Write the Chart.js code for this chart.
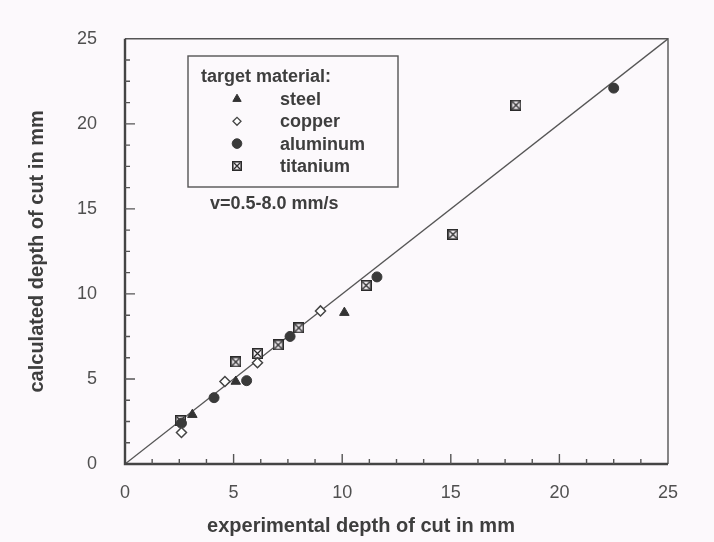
<!DOCTYPE html>
<html>
<head>
<meta charset="utf-8">
<script src="https://cdn.jsdelivr.net/npm/chart.js@4.4.1/dist/chart.umd.min.js"></script>
<style>
  html, body { margin: 0; padding: 0; background: #fcf9fc; }
  #wrap { width: 714px; height: 542px; position: relative; }
</style>
</head>
<body>
<div id="wrap"><canvas id="c" width="714" height="542"></canvas></div>
<script>
// Experimental vs. calculated depth of cut (mm) per target material
const steelX    = [3.1, 5.1, 10.1];
const steelY    = [2.9, 4.85, 8.9];
const copperX   = [2.6, 4.6, 6.1, 9.0];
const copperY   = [1.85, 4.85, 5.95, 9.0];
const aluminumX = [2.6, 4.1, 5.6, 7.6, 11.6, 22.5];
const aluminumY = [2.4, 3.9, 4.9, 7.5, 11.0, 22.1];
const titaniumX = [2.55, 5.1, 6.1, 7.05, 8.0, 11.1, 15.1, 18.0];
const titaniumY = [2.55, 6.0, 6.5, 7.0, 8.0, 10.5, 13.5, 21.1];
// Line of perfect agreement
const refX = [0, 25];
const refY = [0, 25];
const xTicks = [0, 5, 10, 15, 20, 25];
const yTicks = [0, 5, 10, 15, 20, 25];
const legendTitle = 'target material:';
const speedNote = 'v=0.5-8.0 mm/s';
const xTitle = 'experimental depth of cut in mm';
const yTitle = 'calculated depth of cut in mm';

const pts = (xs, ys) => xs.map((x, i) => ({ x: x, y: ys[i] }));
const INK = '#3e3e3e';
const FONT = '"Liberation Sans", Arial, sans-serif';

// Square with a cross inside, used for titanium
function crossBox(size) {
  const cv = document.createElement('canvas');
  cv.width = size; cv.height = size;
  const g = cv.getContext('2d');
  g.fillStyle = '#f4f0f4';
  g.fillRect(0, 0, size, size);
  g.strokeStyle = '#2a2a2a';
  g.lineWidth = 1.6;
  g.strokeRect(0.8, 0.8, size - 1.6, size - 1.6);
  g.lineWidth = 1.3;
  g.beginPath();
  g.moveTo(2, 2); g.lineTo(size - 2, size - 2);
  g.moveTo(size - 2, 2); g.lineTo(2, size - 2);
  g.stroke();
  return cv;
}
const tiMark = crossBox(11);
const tiMarkSmall = crossBox(10);

const datasets = [
  { label: 'reference', type: 'line', data: pts(refX, refY), borderColor: '#555',
    borderWidth: 1.3, pointRadius: 0, fill: false, order: 5 },
  { label: 'steel', data: pts(steelX, steelY), pointStyle: 'triangle', pointRadius: 5.5,
    backgroundColor: '#333', borderColor: '#333', borderWidth: 1, order: 1 },
  { label: 'copper', data: pts(copperX, copperY), pointStyle: 'rectRot', pointRadius: 5,
    backgroundColor: '#fff', borderColor: '#444', borderWidth: 1.5, order: 1 },
  { label: 'titanium', data: pts(titaniumX, titaniumY), pointStyle: tiMark, pointRadius: 5.5,
    backgroundColor: '#fff', borderColor: '#333', order: 2 },
  { label: 'aluminum', data: pts(aluminumX, aluminumY), pointStyle: 'circle', pointRadius: 5,
    backgroundColor: '#3a3a3a', borderColor: '#3a3a3a', borderWidth: 1, order: 1 }
];

const decor = {
  id: 'decor',
  beforeDraw(chart) {
    const ctx = chart.ctx;
    ctx.save();
    ctx.fillStyle = '#fcf9fc';
    ctx.fillRect(0, 0, chart.width, chart.height);
    ctx.restore();
  },
  afterDraw(chart) {
    const ctx = chart.ctx;
    const a = chart.chartArea;
    const xs = chart.scales.x, ys = chart.scales.y;
    ctx.save();
    // frame
    ctx.strokeStyle = '#555';
    ctx.lineWidth = 1.4;
    ctx.beginPath();
    ctx.moveTo(a.left, a.top); ctx.lineTo(a.right, a.top); ctx.lineTo(a.right, a.bottom);
    ctx.stroke();
    ctx.strokeStyle = '#444';
    ctx.lineWidth = 2.4;
    ctx.beginPath();
    ctx.moveTo(a.left, a.top); ctx.lineTo(a.left, a.bottom); ctx.lineTo(a.right, a.bottom);
    ctx.stroke();
    // inward ticks, major every 5, minor every 1.25
    ctx.lineWidth = 1.4;
    ctx.strokeStyle = '#555';
    ctx.beginPath();
    for (let v = 1.25; v < 25; v += 1.25) {
      const major = Math.abs(v / 5 - Math.round(v / 5)) < 1e-6;
      const len = major ? 10 : 5;
      const px = xs.getPixelForValue(v);
      ctx.moveTo(px, a.bottom); ctx.lineTo(px, a.bottom - len);
      const py = ys.getPixelForValue(v);
      ctx.moveTo(a.left, py); ctx.lineTo(a.left + len, py);
    }
    ctx.stroke();

    // axis titles
    ctx.fillStyle = INK;
    ctx.font = 'bold 20px ' + FONT;
    ctx.textAlign = 'center';
    ctx.textBaseline = 'middle';
    ctx.fillText(xTitle, 361, 526);
    ctx.save();
    ctx.translate(37, (a.top + a.bottom) / 2);
    ctx.rotate(-Math.PI / 2);
    ctx.fillText(yTitle, 0, 0);
    ctx.restore();

    // legend box
    ctx.strokeStyle = '#555';
    ctx.lineWidth = 1.4;
    ctx.strokeRect(188, 56, 210, 131);
    ctx.font = 'bold 18px ' + FONT;
    ctx.textAlign = 'left';
    ctx.fillText(legendTitle, 201, 77);
    const rows = [datasets[1], datasets[2], datasets[4], datasets[3]];
    rows.forEach((ds, i) => {
      const y = 99 + i * 22.3;
      const style = ds.pointStyle === tiMark ? tiMarkSmall : ds.pointStyle;
      ctx.fillStyle = ds.backgroundColor;
      ctx.strokeStyle = ds.borderColor;
      ctx.lineWidth = ds.pointStyle === 'rectRot' ? 1.3 : 1;
      Chart.helpers.drawPoint(ctx, { pointStyle: style, radius: ds.pointStyle === 'rectRot' ? 4 : 4.8,
        rotation: 0, borderWidth: ctx.lineWidth }, 237, y);
      ctx.fillStyle = INK;
      ctx.fillText(ds.label, 280, y + 1);
    });
    ctx.fillText(speedNote, 210, 204);
    ctx.restore();
  }
};

new Chart(document.getElementById('c'), {
  type: 'scatter',
  data: { datasets: datasets },
  options: {
    responsive: false,
    animation: false,
    layout: { padding: { left: 0, top: 34, right: 46, bottom: 0 } },
    plugins: { legend: { display: false }, tooltip: { enabled: false } },
    scales: {
      x: {
        type: 'linear', min: 0, max: 25,
        afterBuildTicks: s => { s.ticks = xTicks.map(v => ({ value: v })); },
        afterFit: s => { s.height = 78; },
        grid: { display: false, drawTicks: false },
        border: { display: false },
        ticks: { padding: 18, color: '#505050', font: { family: FONT, size: 18 } }
      },
      y: {
        type: 'linear', min: 0, max: 25,
        afterBuildTicks: s => { s.ticks = yTicks.map(v => ({ value: v })); },
        afterFit: s => { s.width = 125; },
        grid: { display: false, drawTicks: false },
        border: { display: false },
        ticks: { padding: 28, color: '#505050', font: { family: FONT, size: 18 } }
      }
    }
  },
  plugins: [decor]
});
</script>
</body>
</html>
